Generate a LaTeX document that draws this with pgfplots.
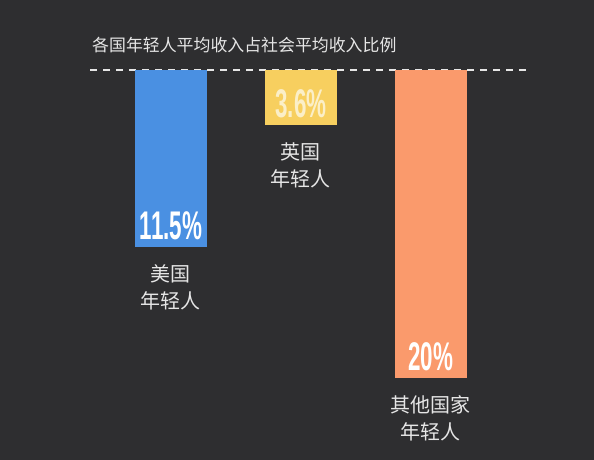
\documentclass[border=0pt]{standalone}
\usepackage{pgfplots}
\pgfplotsset{compat=1.18}
\usepackage{fontspec}
\setmainfont{Liberation Sans}
\newfontfamily\cjk{Noto Sans CJK SC}
\definecolor{bg}{HTML}{2E2E30}
\definecolor{cblue}{HTML}{4A90E2}
\definecolor{cyellow}{HTML}{F7CF5F}
\definecolor{corange}{HTML}{FA9A6C}
\definecolor{txt}{HTML}{E6E6E6}
\definecolor{pale}{HTML}{FBEFC8}
\begin{document}
\begin{tikzpicture}[x=1pt,y=1pt]
\fill[bg] (0,0) rectangle (594,460);
\node[anchor=west, text=txt, font=\cjk\fontsize{16.9}{18}\selectfont, inner sep=0] at (92,415) {各国年轻人平均收入占社会平均收入比例};
\begin{axis}[at={(90pt,5pt)}, anchor=south west, scale only axis,
  width=440pt, height=385pt,
  xmin=-0.623, xmax=2.762, ymin=0, ymax=25, y dir=reverse,
  hide axis, clip=false, ybar, bar width=0.554,
  point meta=explicit symbolic,
  nodes near coords={\pgfplotspointmeta},
  nodes near coords align={anchor=base},
  every node near coord/.append style={font=\bfseries\fontsize{40}{42}\selectfont, xscale=0.56, inner sep=0, yshift=8pt, text=white},
]
\draw[txt, line width=1.4pt, dash pattern=on 7pt off 6pt] (axis cs:-0.623,0) -- (axis cs:2.762,0);
\addplot[fill=cblue, draw=none, bar shift=0pt] coordinates {(0,11.5) [11.5\%]};
\addplot[fill=cyellow, draw=none, bar shift=0pt, every node near coord/.append style={text=pale}] coordinates {(1,3.6) [3.6\%]};
\addplot[fill=corange, draw=none, bar shift=0pt] coordinates {(2,20) [20\%]};
\node[anchor=north, yshift=-14pt, align=center, text=txt, font=\cjk\fontsize{20}{27}\selectfont] at (axis cs:0,11.5) {美国\\年轻人};
\node[anchor=north, yshift=-14pt, align=center, text=txt, font=\cjk\fontsize{20}{27}\selectfont] at (axis cs:1,3.6) {英国\\年轻人};
\node[anchor=north, yshift=-14pt, align=center, text=txt, font=\cjk\fontsize{20}{27}\selectfont] at (axis cs:2,20) {其他国家\\年轻人};
\end{axis}
\pgfresetboundingbox
\useasboundingbox (0,0) rectangle (594,460);
\end{tikzpicture}
\end{document}
